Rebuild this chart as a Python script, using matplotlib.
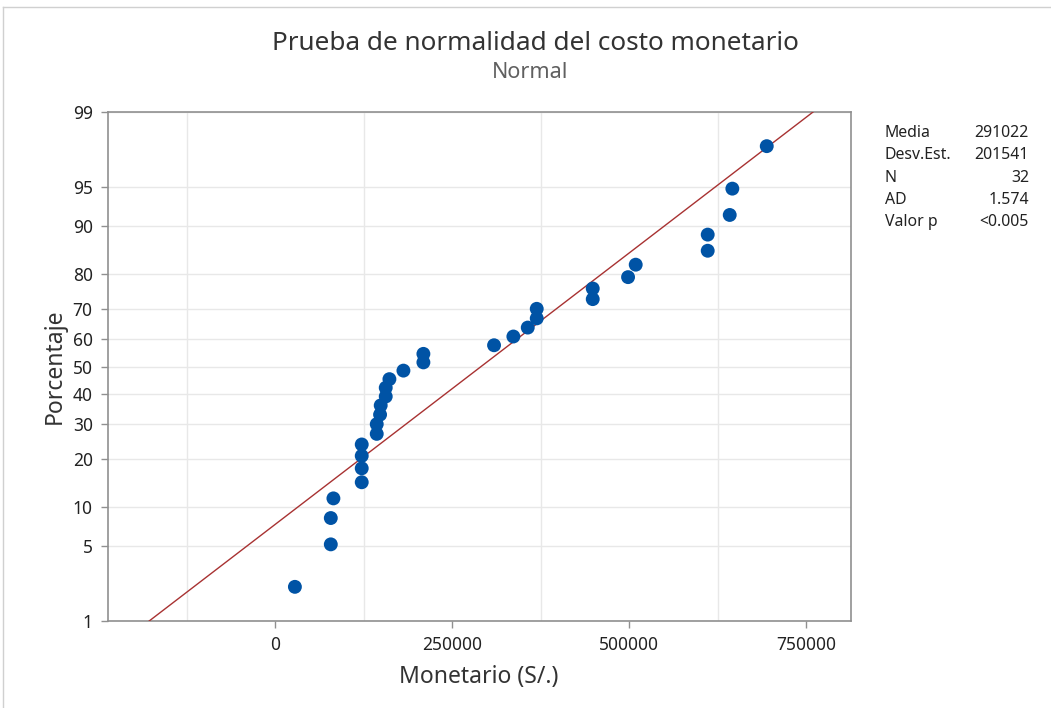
import matplotlib
matplotlib.use("Agg")
import matplotlib.pyplot as plt
from matplotlib.ticker import FixedLocator, FuncFormatter
from statistics import NormalDist

# ---- data ----
monetario = [28000, 78700, 78700, 82400, 122400, 122400, 122400, 122400,
             143600, 143600, 148300, 149200, 156300, 156300, 161500, 181300,
             209500, 209500, 309300, 336600, 356900, 369600, 369600, 448700,
             448700, 498600, 509400, 611100, 611100, 642200, 645900, 694500]
porcentaje = [2.2, 5.2, 8.3, 11.4, 14.5, 17.6, 20.7, 23.8,
              26.9, 29.9, 33.0, 36.1, 39.2, 42.3, 45.4, 48.5,
              51.5, 54.6, 57.7, 60.8, 63.9, 67.0, 70.1, 73.1,
              76.2, 79.3, 82.4, 85.5, 88.6, 91.7, 94.8, 97.8]
media = 291022
desv_est = 201541
stats_labels = ["Media", "Desv.Est.", "N", "AD", "Valor p"]
stats_values = ["291022", "201541", "32", "1.574", "<0.005"]
y_ticks = [1, 5, 10, 20, 30, 40, 50, 60, 70, 80, 90, 95, 99]
x_ticks = [0, 250000, 500000, 750000]
x_grid = [-125000, 0, 125000, 250000, 375000, 500000, 625000, 750000]
line_pcts = [1, 99]

plt.rcParams['font.family'] = ['Noto Sans', 'DejaVu Sans']

nd = NormalDist()
def z(p):
    return nd.inv_cdf(p / 100.0)

W, H = 1051, 708
fig = plt.figure(figsize=(W / 100, H / 100), dpi=100)
ax = fig.add_axes([108 / W, 1 - 621 / H, 743 / W, 509 / H])

# figure border (top and left)
fig.add_artist(plt.Line2D([3 / W, 1], [1 - 7 / H, 1 - 7 / H], transform=fig.transFigure,
                          color="#d0d0d0", lw=1))
fig.add_artist(plt.Line2D([3 / W, 3 / W], [0, 1 - 7 / H], transform=fig.transFigure,
                          color="#d0d0d0", lw=1))

# fitted line
lx = [media + desv_est * z(p) for p in line_pcts]
ly = [z(p) for p in line_pcts]
ax.plot(lx, ly, color="#a83232", lw=1.0, zorder=3)

# points
ax.scatter(monetario, [z(p) for p in porcentaje], s=100, color="#0053a5",
           edgecolors="none", zorder=4)

ax.set_xlim(-236000, 813500)
ax.set_ylim(z(1), z(99))

ax.xaxis.set_major_locator(FixedLocator(x_ticks))
ax.xaxis.set_minor_locator(FixedLocator(x_grid))
ax.xaxis.set_major_formatter(FuncFormatter(lambda v, p: f"{int(v)}"))
ax.yaxis.set_major_locator(FixedLocator([z(p) for p in y_ticks]))
ax.set_yticklabels([str(t) for t in y_ticks])

ax.grid(True, which="minor", axis="x", color="#e8e8e8", lw=1.0, zorder=0)
ax.grid(True, which="major", axis="y", color="#e8e8e8", lw=1.0, zorder=0)
ax.set_axisbelow(True)

ax.tick_params(axis="both", which="major", direction="out", length=5, width=1,
               color="#909090", labelsize=12.5, labelcolor="#222222", pad=6)
ax.tick_params(axis="x", which="minor", length=0)
for s in ax.spines.values():
    s.set_color("#909090")
    s.set_linewidth(1.2)

fig.text(479 / W, 1 - 677 / H, "Monetario (S/.)", ha="center", va="center",
         fontsize=16.5, color="#333333")
fig.text(55 / W, 1 - 366 / H, "Porcentaje", ha="center", va="center",
         rotation=90, fontsize=16.5, color="#333333")

fig.text(535 / W, 1 - 44 / H, "Prueba de normalidad del costo monetario",
         ha="center", va="center", fontsize=18.8, color="#333333")
fig.text(530 / W, 1 - 73 / H, "Normal", ha="center", va="center",
         fontsize=15.5, color="#606060")

for i, (lab, val) in enumerate(zip(stats_labels, stats_values)):
    yy = 1 - (133 + 22.3 * i) / H
    fig.text(885 / W, yy, lab, ha="left", va="center", fontsize=11.4, color="#222222")
    fig.text(1029 / W, yy, val, ha="right", va="center", fontsize=11.4, color="#222222")

fig.savefig("out.png", dpi=100, facecolor="white")
